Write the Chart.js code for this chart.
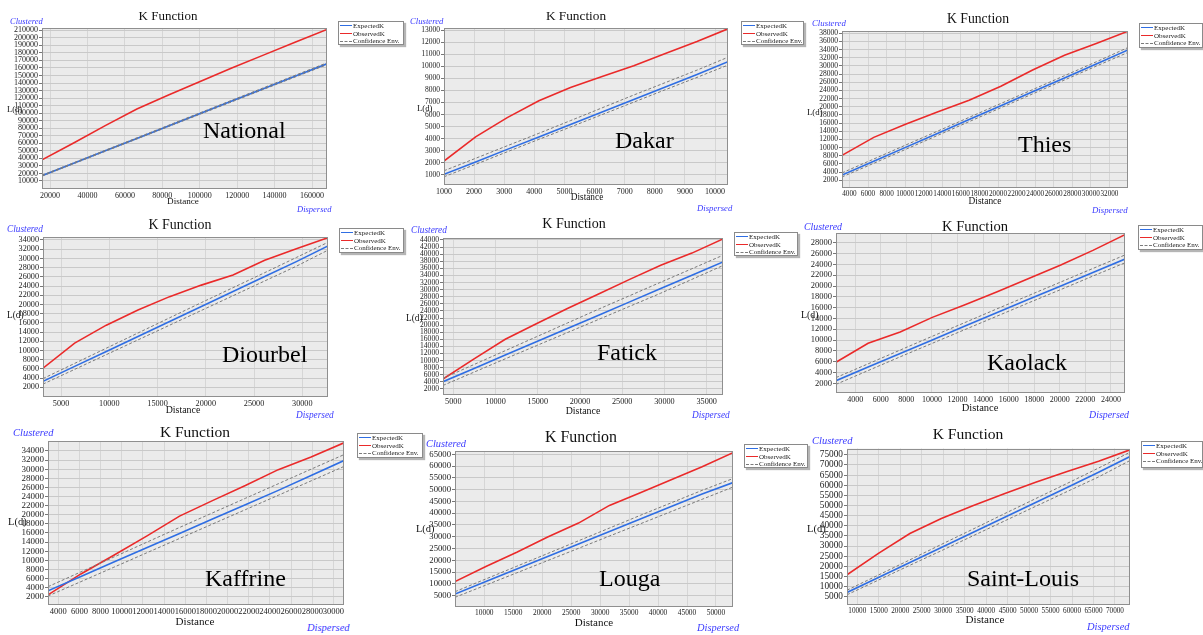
<!DOCTYPE html>
<html>
<head>
<meta charset="utf-8">
<script src="https://cdn.jsdelivr.net/npm/chart.js@4.4.1/dist/chart.umd.min.js"></script>
<style>
  html, body { margin:0; padding:0; background:#fff; width:1203px; height:635px; overflow:hidden; font-family:"Liberation Serif", "Times New Roman", serif; }
  .abs { position:absolute; white-space:nowrap; line-height:1; color:#111; }
  .ttl { transform:translate(-50%,-50%); }
  .mid { transform:translateY(-50%); }
  .ctr { transform:translate(-50%,-50%); }
  .blue { font-style:italic; color:#3b3bff; }
  .reg { font-size:24px; color:#000; }
  .leg { position:absolute; background:#fff; border:1px solid #8a8a8a; box-shadow:2px 2px 1px #b5b5b5; font-size:7px; line-height:7.6px; padding:1px 0 0 1px; box-sizing:border-box; overflow:hidden; }
  .leg div { white-space:nowrap; color:#222; }
  .leg i { display:inline-block; width:12px; height:0; vertical-align:middle; margin:0 1px 1px 0; }
  canvas { position:absolute; }
</style>
</head>
<body>
<script>
// ── Data ────────────────────────────────────────────────────
const SERIES = ['ExpectedK', 'ObservedK', 'Confidence Env.'];

// National
const natDist = [15700, 32600, 49500, 66400, 83300, 100200, 117100, 134000, 150900, 168000];
const natObs  = [38000, 60500, 83500, 105500, 124000, 142000, 160000, 177000, 194000, 211000];
const natExp  = [17000, 33500, 50000, 66500, 83000, 99500, 116000, 132500, 149000, 165500];
const natUp   = [17600, 34200, 50800, 67300, 83900, 100500, 117100, 133600, 150200, 166800];
const natLo   = [16400, 32900, 49300, 65800, 82200, 98600, 115000, 131500, 147900, 164300];
const natXT   = [20000, 40000, 60000, 80000, 100000, 120000, 140000, 160000];
const natYT   = [10000, 20000, 30000, 40000, 50000, 60000, 70000, 80000, 90000, 100000, 110000,
                 120000, 130000, 140000, 150000, 160000, 170000, 180000, 190000, 200000, 210000];

// Dakar
const dakDist = [1000, 2050, 3100, 4150, 5200, 6250, 7300, 8350, 9400, 10430];
const dakObs  = [2150, 4150, 5750, 7150, 8250, 9150, 10050, 11050, 12050, 13100];
const dakExp  = [1050, 2080, 3120, 4150, 5180, 6220, 7250, 8290, 9320, 10380];
const dakUp   = [1350, 2380, 3420, 4450, 5500, 6560, 7620, 8650, 9680, 10750];
const dakLo   = [850, 1880, 2920, 3950, 4970, 6000, 7030, 8060, 9080, 10100];
const dakXT   = [1000, 2000, 3000, 4000, 5000, 6000, 7000, 8000, 9000, 10000];
const dakYT   = [1000, 2000, 3000, 4000, 5000, 6000, 7000, 8000, 9000, 10000, 11000, 12000, 13000];

// Thies
const thiDist = [3200, 6620, 10040, 13470, 16890, 20310, 23730, 27160, 30580, 34000];
const thiObs  = [8100, 12500, 15700, 18700, 21600, 25000, 29000, 32600, 35500, 38500];
const thiExp  = [3250, 6650, 10050, 13450, 16850, 20250, 23650, 27050, 30450, 33900];
const thiUp   = [3800, 7200, 10600, 14000, 17400, 20800, 24200, 27600, 31000, 34500];
const thiLo   = [2800, 6150, 9550, 12950, 16350, 19750, 23150, 26550, 29950, 33300];
const thiXT   = [4000, 6000, 8000, 10000, 12000, 14000, 16000, 18000, 20000, 22000, 24000, 26000, 28000, 30000, 32000];
const thiYT   = [2000, 4000, 6000, 8000, 10000, 12000, 14000, 16000, 18000, 20000, 22000, 24000,
                 26000, 28000, 30000, 32000, 34000, 36000, 38000];

// Diourbel
const dioDist = [3130, 6410, 9690, 12970, 16250, 19540, 22820, 26100, 29380, 32660];
const dioObs  = [6150, 11600, 15500, 18800, 21700, 24200, 26400, 29600, 32100, 34500];
const dioExp  = [3300, 6550, 9800, 13050, 16300, 19550, 22800, 26050, 29300, 32700];
const dioUp   = [3900, 7200, 10500, 13800, 17100, 20400, 23650, 26900, 30200, 33500];
const dioLo   = [2700, 5900, 9100, 12300, 15500, 18700, 21900, 25100, 28300, 31800];
const dioXT   = [5000, 10000, 15000, 20000, 25000, 30000];
const dioYT   = [2000, 4000, 6000, 8000, 10000, 12000, 14000, 16000, 18000, 20000, 22000, 24000,
                 26000, 28000, 30000, 32000, 34000];

// Fatick
const fatDist = [3780, 7460, 11150, 14830, 18510, 22200, 25880, 29560, 33250, 36930];
const fatObs  = [4800, 10500, 16000, 20400, 24700, 28800, 32900, 36900, 40300, 44300];
const fatExp  = [4050, 7800, 11550, 15300, 19050, 22800, 26550, 30300, 34050, 37800];
const fatUp   = [5000, 8900, 12800, 16700, 20600, 24500, 28300, 32100, 35900, 39700];
const fatLo   = [3000, 6750, 10500, 14200, 17900, 21600, 25300, 29000, 32900, 36800];
const fatXT   = [5000, 10000, 15000, 20000, 25000, 30000, 35000];
const fatYT   = [2000, 4000, 6000, 8000, 10000, 12000, 14000, 16000, 18000, 20000, 22000, 24000,
                 26000, 28000, 30000, 32000, 34000, 36000, 38000, 40000, 42000, 44000];

// Kaolack
const kaoDist = [2500, 5010, 7520, 10030, 12540, 15060, 17570, 20080, 22590, 25100];
const kaoObs  = [5900, 9400, 11500, 14200, 16500, 18900, 21400, 23900, 26600, 29500];
const kaoExp  = [2480, 5000, 7510, 10030, 12540, 15050, 17560, 20000, 22500, 25000];
const kaoUp   = [3050, 5600, 8150, 10700, 13200, 15750, 18250, 20750, 23250, 25750];
const kaoLo   = [1800, 4350, 6900, 9400, 11900, 14400, 16900, 19350, 21850, 24300];
const kaoXT   = [4000, 6000, 8000, 10000, 12000, 14000, 16000, 18000, 20000, 22000, 24000];
const kaoYT   = [2000, 4000, 6000, 8000, 10000, 12000, 14000, 16000, 18000, 20000, 22000, 24000, 26000, 28000];

// Kaffrine
const kafDist = [3030, 6140, 9250, 12350, 15460, 18570, 21680, 24790, 27890, 31000];
const kafObs  = [2400, 7000, 11100, 15300, 19700, 23100, 26400, 29900, 32700, 35800];
const kafExp  = [3300, 6450, 9600, 12750, 15900, 19050, 22200, 25350, 28600, 31900];
const kafUp   = [4200, 7450, 10700, 13950, 17200, 20400, 23600, 26800, 30000, 33200];
const kafLo   = [2150, 5310, 8470, 11630, 14790, 17950, 21110, 24270, 27430, 30600];
const kafXT   = [4000, 6000, 8000, 10000, 12000, 14000, 16000, 18000, 20000, 22000, 24000, 26000, 28000, 30000];
const kafYT   = [2000, 4000, 6000, 8000, 10000, 12000, 14000, 16000, 18000, 20000, 22000, 24000,
                 26000, 28000, 30000, 32000, 34000];

// Louga
const louDist = [4940, 10270, 15610, 20940, 26270, 31610, 36940, 42270, 47610, 52940];
const louObs  = [11000, 17400, 23400, 29900, 35800, 43300, 48700, 54200, 59700, 65700];
const louExp  = [5700, 11000, 16300, 21600, 26900, 32200, 37500, 42800, 48100, 53000];
const louUp   = [6700, 12100, 17500, 22900, 28300, 33700, 39100, 44400, 49700, 54700];
const louLo   = [4300, 9500, 14700, 19900, 25100, 30300, 35500, 40700, 45900, 51100];
const louXT   = [10000, 15000, 20000, 25000, 30000, 35000, 40000, 45000, 50000];
const louYT   = [5000, 10000, 15000, 20000, 25000, 30000, 35000, 40000, 45000, 50000, 55000, 60000, 65000];

// Saint-Louis
const slDist  = [7600, 14920, 22240, 29570, 36890, 44210, 51530, 58860, 66180, 73500];
const slObs   = [15800, 26400, 36200, 43600, 49900, 55800, 61500, 66800, 71800, 77500];
const slExp   = [7100, 14500, 21900, 29300, 36700, 44100, 51500, 58900, 66400, 74200];
const slUp    = [8200, 15700, 23200, 30800, 38300, 45900, 53400, 60900, 68500, 76300];
const slLo    = [5950, 13200, 20500, 27700, 35000, 42300, 49600, 56900, 64100, 72200];
const slXT    = [10000, 15000, 20000, 25000, 30000, 35000, 40000, 45000, 50000, 55000, 60000, 65000, 70000];
const slYT    = [5000, 10000, 15000, 20000, 25000, 30000, 35000, 40000, 45000, 50000, 55000, 60000,
                 65000, 70000, 75000];

// ── Layout per panel (plot box in page px, axis ranges, text spots) ─────
const PANELS = [
  { name:'National',    d:[natDist,natObs,natExp,natUp,natLo], xt:natXT, yt:natYT,
    plot:[42,28,327,189],   xr:[15700,168000], yr:[-640,213000], tf:[8,8],
    title:[168,15,13],   fs:8.5, clu:[10,21], dis:[297,209], ld:[7,109], dst:[183,202], reg:[203,130], leg:[338,21,66,24] },
  { name:'Dakar',       d:[dakDist,dakObs,dakExp,dakUp,dakLo], xt:dakXT, yt:dakYT,
    plot:[444,28,728,185],  xr:[1000,10430],   yr:[170,13170],   tf:[7.5,8],
    title:[576,16,13.3], fs:8.7, clu:[410,21], dis:[697,208], ld:[417,108], dst:[587,198], reg:[615,140], leg:[741,21,63,24] },
  { name:'Thies',       d:[thiDist,thiObs,thiExp,thiUp,thiLo], xt:thiXT, yt:thiYT,
    plot:[842,31,1128,188], xr:[3200,34000],   yr:[100,38550],   tf:[7.5,7.2],
    title:[978,19,13.7], fs:8.8, clu:[812,23], dis:[1092,210], ld:[807,112], dst:[985,202], reg:[1018,144], leg:[1139,23,64,25] },
  { name:'Diourbel',    d:[dioDist,dioObs,dioExp,dioUp,dioLo], xt:dioXT, yt:dioYT,
    plot:[43,237,328,397],  xr:[3130,32660],   yr:[-100,34650],  tf:[8.2,8.2],
    title:[180,225,13.9], fs:9.3, clu:[7,230], dis:[296,416], ld:[7,316], dst:[183,410], reg:[222,354], leg:[339,228,65,25] },
  { name:'Fatick',      d:[fatDist,fatObs,fatExp,fatUp,fatLo], xt:fatXT, yt:fatYT,
    plot:[443,238,723,395], xr:[3780,36930],   yr:[300,44560],   tf:[7.6,8.2],
    title:[574,224,14],  fs:9.3, clu:[411,231], dis:[692,416], ld:[406,319], dst:[583,411], reg:[597,352], leg:[734,232,64,24] },
  { name:'Kaolack',     d:[kaoDist,kaoObs,kaoExp,kaoUp,kaoLo], xt:kaoXT, yt:kaoYT,
    plot:[836,233,1125,393], xr:[2500,25100],  yr:[200,29800],   tf:[8.5,8],
    title:[975,226,14.6], fs:9.9, clu:[804,227], dis:[1089,415], ld:[801,315], dst:[980,408], reg:[987,362], leg:[1138,225,65,25] },
  { name:'Kaffrine',    d:[kafDist,kafObs,kafExp,kafUp,kafLo], xt:kafXT, yt:kafYT,
    plot:[48,441,344,605],  xr:[3030,31000],   yr:[180,36100],   tf:[9,8.5],
    title:[195,432,15.5], fs:10.5, clu:[13,433], dis:[307,628], ld:[8,522], dst:[195,622], reg:[205,578], leg:[357,433,66,25] },
  { name:'Louga',       d:[louDist,louObs,louExp,louUp,louLo], xt:louXT, yt:louYT,
    plot:[455,451,733,607], xr:[4940,52940],   yr:[200,66300],   tf:[8.7,7.4],
    title:[581,437,15.9], fs:10.4, clu:[426,444], dis:[697,628], ld:[416,529], dst:[594,622], reg:[599,578], leg:[744,444,64,24] },
  { name:'Saint-Louis', d:[slDist,slObs,slExp,slUp,slLo], xt:slXT, yt:slYT,
    plot:[847,448,1130,605], xr:[7600,73500],  yr:[900,78100],   tf:[9.3,7.2],
    title:[968,434,15.6], fs:10.5, clu:[812,441], dis:[1087,627], ld:[807,529], dst:[985,620], reg:[967,578], leg:[1141,441,62,27] },
];

const COL = { exp:'#2f6ee3', obs:'#ea2a2a', env:'#7b7b7b', bg:'#ebebeb', gridH:'#c9c9c9', gridV:'#d6d6d6', frame:'#8f8f8f', tick:'#222' };
const SERIF = '"Liberation Serif", "Times New Roman", serif';

// plot background + frame
const plotFrame = {
  id: 'plotFrame',
  beforeDraw(c) {
    const a = c.chartArea, x = c.ctx;
    x.save(); x.fillStyle = COL.bg; x.fillRect(a.left, a.top, a.width, a.height); x.restore();
  },
  afterDraw(c) {
    const a = c.chartArea, x = c.ctx;
    x.save(); x.strokeStyle = COL.frame; x.lineWidth = 1;
    x.strokeRect(Math.round(a.left)+0.5, Math.round(a.top)+0.5, Math.round(a.width)-1, Math.round(a.height)-1);
    x.restore();
  }
};

function addText(cls, txt, x, y, size, extra) {
  const el = document.createElement('div');
  el.className = 'abs ' + cls;
  el.textContent = txt;
  el.style.left = x + 'px'; el.style.top = y + 'px';
  if (size) el.style.fontSize = size + 'px';
  if (extra) Object.assign(el.style, extra);
  document.body.appendChild(el);
}

function addLegend(p) {
  const [l, t, w, h] = p.leg;
  const box = document.createElement('div');
  box.className = 'leg';
  Object.assign(box.style, { left:l+'px', top:t+'px', width:w+'px', height:h+'px' });
  const marks = [`1.5px solid ${COL.exp}`, `1.5px solid ${COL.obs}`, `1px dashed ${COL.env}`];
  box.innerHTML = SERIES.map((s, i) => `<div><i style="border-top:${marks[i]}"></i>${s}</div>`).join('');
  document.body.appendChild(box);
}

const L = 40, T = 6, R = 16, B = 16;   // canvas margins round the plot box

function drawPanel(p) {
  const [dist, obs, exp, up, lo] = p.d;
  const [pl, pt, pr, pb] = p.plot;
  const cv = document.createElement('canvas');
  cv.width = pr - pl + L + R; cv.height = pb - pt + T + B;
  Object.assign(cv.style, { left:(pl - L)+'px', top:(pt - T)+'px', width:cv.width+'px', height:cv.height+'px' });
  document.body.appendChild(cv);

  const pts = arr => dist.map((d, i) => ({ x:d, y:arr[i] }));
  const line = (label, arr, color, w, dash) => ({
    label, data:pts(arr), borderColor:color, borderWidth:w, borderDash:dash || [],
    pointRadius:0, tension:0, fill:false
  });

  new Chart(cv, {
    type: 'line',
    data: { datasets: [
      line('Confidence Env.', lo, COL.env, 1, [3,2]),
      line('Confidence Env. (upper)', up, COL.env, 1, [3,2]),
      line('ExpectedK', exp, COL.exp, 1.6),
      line('ObservedK', obs, COL.obs, 1.6),
    ]},
    options: {
      responsive:false, animation:false, devicePixelRatio:1,
      layout:{ padding:{ top:T, right:R, left:0, bottom:0 } },
      plugins:{ legend:{display:false}, tooltip:{enabled:false}, title:{display:false} },
      scales:{
        x:{ type:'linear', min:p.xr[0], max:p.xr[1],
            afterBuildTicks:s => { s.ticks = p.xt.map(v => ({ value:v })); },
            afterFit:s => { s.height = B; },
            ticks:{ color:COL.tick, font:{ family:SERIF, size:p.tf[1] }, maxRotation:0, autoSkip:false, padding:2,
                    callback:v => String(v) },
            grid:{ color:COL.gridV, drawTicks:false },
            border:{ display:false } },
        y:{ type:'linear', min:p.yr[0], max:p.yr[1],
            afterBuildTicks:s => { s.ticks = p.yt.map(v => ({ value:v })); },
            afterFit:s => { s.width = L; },
            ticks:{ color:COL.tick, font:{ family:SERIF, size:p.tf[0] }, autoSkip:false, padding:1,
                    callback:v => String(v) },
            grid:{ color:COL.gridH, tickLength:3, tickColor:'#777' },
            border:{ display:false } }
      }
    },
    plugins:[plotFrame]
  });

  // texts round the plot
  addText('ttl', 'K Function', p.title[0], p.title[1], p.title[2]);
  addText('mid blue', 'Clustered', p.clu[0], p.clu[1], p.fs);
  addText('mid blue', 'Dispersed', p.dis[0], p.dis[1], p.fs);
  addText('mid', 'L(d)', p.ld[0], p.ld[1], p.fs);
  addText('ctr', 'Distance', p.dst[0], p.dst[1], p.fs + 0.6);
  addText('mid reg', p.name, p.reg[0], p.reg[1]);
  addLegend(p);
}

PANELS.forEach(drawPanel);
</script>
</body>
</html>
